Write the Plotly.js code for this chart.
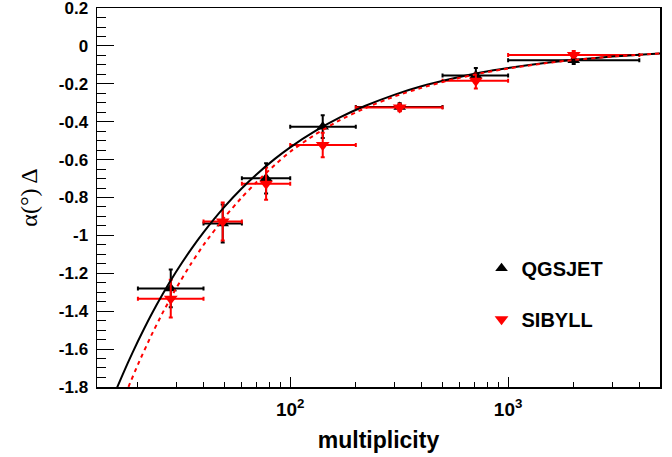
<!DOCTYPE html>
<html>
<head>
<meta charset="utf-8">
<script src="https://cdn.plot.ly/plotly-3.0.1.min.js"></script>
<style>html,body{margin:0;padding:0;background:#fff;}#chart{width:672px;height:457px;}</style>
</head>
<body>
<div id="chart"></div>
<script>
// Bin edges and centres (multiplicity)
const binLo = [20, 40, 60, 100, 200, 500, 1000];
const binHi = [40, 60, 100, 200, 500, 1000, 4000];
const xCenters = [28.3, 49, 77.5, 141, 318, 711, 2000];

// QGSJET points
const qgsY = [-1.28, -0.937, -0.699, -0.426, -0.322, -0.156, -0.075];
const qgsErr = [0.10, 0.10, 0.08, 0.06, 0.02, 0.04, 0.02];

// SIBYLL points
const sibY = [-1.334, -0.927, -0.727, -0.523, -0.325, -0.184, -0.047];
const sibErr = [0.10, 0.10, 0.085, 0.065, 0.02, 0.04, 0.02];

// Fit curves
const qgsCurveX = [15, 16.1, 18, 20, 23, 26, 30, 35, 40, 50, 60, 70, 85, 100, 130, 170, 220, 300, 400, 550, 750, 1000, 1500, 2000, 3000, 4000, 4980];
const qgsCurveY = [-1.887, -1.80, -1.672, -1.559, -1.42, -1.309, -1.191, -1.075, -0.984, -0.848, -0.751, -0.678, -0.596, -0.535, -0.45, -0.376, -0.317, -0.258, -0.213, -0.173, -0.14, -0.116, -0.089, -0.073, -0.056, -0.046, -0.04];
const sibCurveX = [17, 18.1, 20, 23, 26, 30, 35, 40, 50, 60, 70, 85, 100, 130, 170, 220, 300, 400, 550, 750, 1000, 1500, 2000, 3000, 4000, 4980];
const sibCurveY = [-1.878, -1.80, -1.682, -1.53, -1.408, -1.278, -1.151, -1.051, -0.904, -0.799, -0.719, -0.628, -0.558, -0.468, -0.39, -0.329, -0.267, -0.221, -0.178, -0.144, -0.119, -0.09, -0.074, -0.056, -0.046, -0.04];

// Axis ticks
const yTickVals = [0.2, 0, -0.2, -0.4, -0.6, -0.8, -1, -1.2, -1.4, -1.6, -1.8];
const yTickText = ['0.2', '0', '-0.2', '-0.4', '-0.6', '-0.8', '-1', '-1.2', '-1.4', '-1.6', '-1.8'];
const xTickVals = [100, 1000];
const xTickText = ['10<sup>2</sup>', '10<sup>3</sup>'];
const xMinorVals = [20, 30, 40, 50, 60, 70, 80, 90, 200, 300, 400, 500, 600, 700, 800, 900, 2000, 3000, 4000];

const errPlus = xCenters.map((x, i) => binHi[i] - x);
const errMinus = xCenters.map((x, i) => x - binLo[i]);

const FAM = 'Liberation Sans, Arial, sans-serif';

const traces = [
  {
    x: xCenters, y: qgsY, type: 'scatter', mode: 'markers', name: 'QGSJET',
    legendgroup: 'q',
    marker: {symbol: 'triangle-up', size: 11, color: '#000'},
    error_x: {type: 'data', symmetric: false, array: errPlus, arrayminus: errMinus, color: '#000', thickness: 2, width: 2},
    error_y: {type: 'data', array: qgsErr, color: '#000', thickness: 2, width: 2}
  },
  {
    x: xCenters, y: sibY, type: 'scatter', mode: 'markers', name: 'SIBYLL',
    legendgroup: 's',
    marker: {symbol: 'triangle-down', size: 12, color: '#ff0000'},
    error_x: {type: 'data', symmetric: false, array: errPlus, arrayminus: errMinus, color: '#ff0000', thickness: 2, width: 2},
    error_y: {type: 'data', array: sibErr, color: '#ff0000', thickness: 2, width: 2}
  },
  {
    x: qgsCurveX, y: qgsCurveY, type: 'scatter', mode: 'lines', showlegend: false,
    line: {color: '#000', width: 2, shape: 'spline', smoothing: 0.5}
  },
  {
    x: sibCurveX, y: sibCurveY, type: 'scatter', mode: 'lines', showlegend: false,
    line: {color: '#ff0000', width: 2, dash: '4px,4px', shape: 'spline', smoothing: 0.5}
  }
];

const layout = {
  width: 672, height: 457,
  margin: {l: 97, r: 12, t: 8, b: 70},
  paper_bgcolor: '#fff', plot_bgcolor: '#fff',
  showlegend: true,
  legend: {
    x: 0.683, y: 0.365, xanchor: 'left', yanchor: 'top',
    font: {family: FAM, size: 20, color: '#000', weight: 'bold'},
    bgcolor: 'rgba(0,0,0,0)', tracegroupgap: 22,
    itemwidth: 30
  },
  xaxis: {
    type: 'log', range: [1.1133, 3.697],
    showline: true, linecolor: '#000', linewidth: 1.5, mirror: true,
    showgrid: false, zeroline: false,
    ticks: 'inside', ticklen: 10, tickwidth: 1, tickcolor: '#000',
    tickmode: 'array', tickvals: xTickVals, ticktext: xTickText,
    tickfont: {family: FAM, size: 19, color: '#000', weight: 'bold'},
    ticklabelstandoff: 5,
    minor: {tickmode: 'array', tickvals: xMinorVals, ticks: 'inside', ticklen: 5, tickwidth: 1, tickcolor: '#000', showgrid: false},
    title: {text: 'multiplicity', font: {family: FAM, size: 23, color: '#000', weight: 'bold'}, standoff: 12}
  },
  yaxis: {
    range: [-1.8006, 0.2006],
    showline: true, linecolor: '#000', linewidth: 1.5, mirror: true,
    showgrid: false, zeroline: false,
    ticks: 'inside', ticklen: 17, tickwidth: 1, tickcolor: '#000',
    tickmode: 'array', tickvals: yTickVals, ticktext: yTickText,
    tickfont: {family: FAM, size: 17, color: '#000', weight: 'bold'}, ticklabelstandoff: 4,
    ticklabeloverflow: 'allow',
    minor: {dtick: 0.05, tick0: 0, ticks: 'inside', ticklen: 9, tickwidth: 1, tickcolor: '#000', showgrid: false},
    title: {text: 'α(°) Δ', font: {family: 'Liberation Serif, Times New Roman, serif', size: 24, color: '#000'}, standoff: 14}
  }
};

Plotly.newPlot('chart', traces, layout, {displayModeBar: false, staticPlot: true});
</script>
</body>
</html>
